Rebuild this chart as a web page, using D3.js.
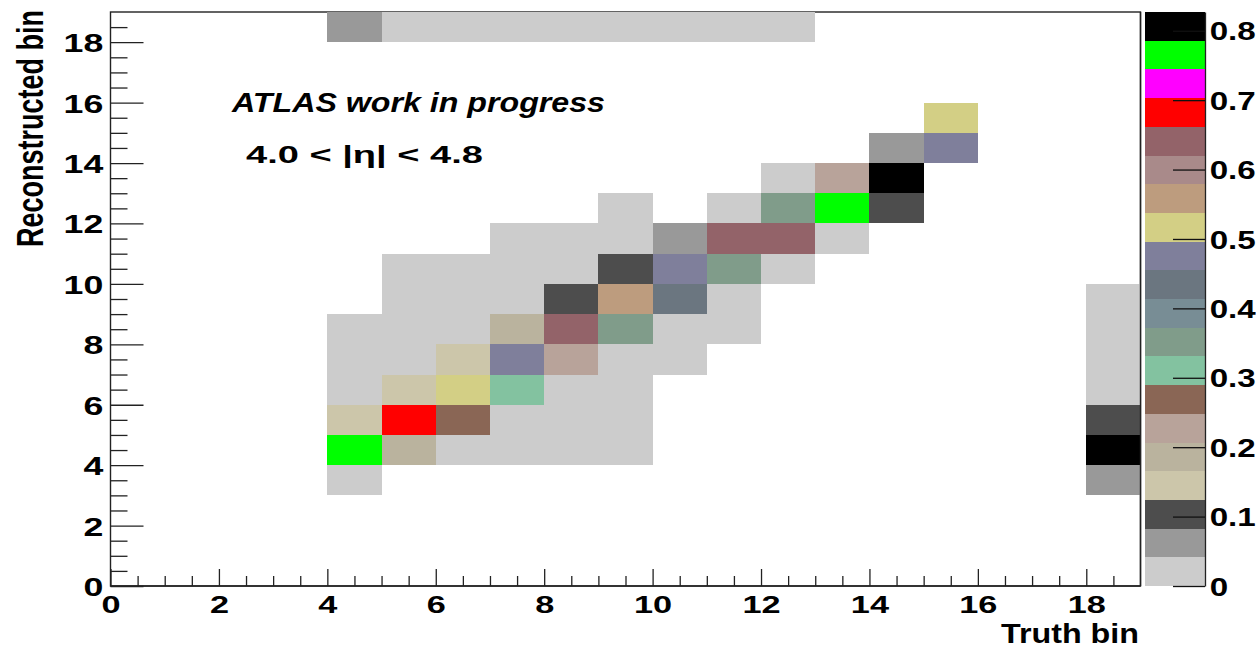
<!DOCTYPE html>
<html><head><meta charset="utf-8">
<script src="https://cdn.jsdelivr.net/npm/d3@7"></script>
<style>
body{margin:0;background:#fff}
svg text{font-family:"Liberation Sans",Arial,Helvetica,sans-serif;font-weight:bold;fill:#000}
</style>
</head><body>
<svg id="chart" width="1256" height="649"></svg>
<script>
// ---- data (truth bin, reconstructed bin, fraction) ----
const cellTruth = [4,4,4,4,4,4,4,
  5,5,5,5,5,5,5,5,
  6,6,6,6,6,6,6,6,
  7,7,7,7,7,7,7,7,7,
  8,8,8,8,8,8,8,8,8,
  9,9,9,9,9,9,9,9,9,9,
  10,10,10,10,10,10,
  11,11,11,11,11,11,
  12,12,12,12,12,
  13,13,13,
  14,14,14,
  15,15,
  18,18,18,18,18,18,18];
const cellReco = [3,4,5,6,7,8,18,
  4,5,6,7,8,9,10,18,
  4,5,6,7,8,9,10,18,
  4,5,6,7,8,9,10,11,18,
  4,5,6,7,8,9,10,11,18,
  4,5,6,7,8,9,10,11,12,18,
  7,8,9,10,11,18,
  8,9,10,11,12,18,
  10,11,12,13,18,
  11,12,13,
  12,13,14,
  14,15,
  3,4,5,6,7,8,9];
const cellValue = [0.02,0.765,0.14,0.02,0.01,0.01,0.06,
  0.19,0.68,0.14,0.02,0.01,0.01,0.01,0.02,
  0.03,0.27,0.52,0.14,0.02,0.01,0.01,0.02,
  0.01,0.02,0.31,0.47,0.19,0.02,0.01,0.01,0.01,
  0.01,0.01,0.03,0.23,0.64,0.10,0.02,0.01,0.01,
  0.01,0.01,0.02,0.03,0.35,0.56,0.10,0.03,0.01,0.01,
  0.02,0.03,0.43,0.47,0.06,0.01,
  0.01,0.03,0.35,0.64,0.02,0.01,
  0.03,0.64,0.35,0.02,0.01,
  0.02,0.765,0.23,
  0.10,0.81,0.06,
  0.47,0.52,
  0.06,0.81,0.10,0.02,0.01,0.01,0.01];
const paletteColors = ["#cccccc","#999999","#4d4d4d","#ccc6aa","#bab39e","#b8a39a","#8a6655",
  "#83c2a0","#809c8a","#788d95","#6b7680","#7f7f9b","#d3cf85","#bd9c7e","#a98a8a","#936369",
  "#ff0000","#ff00ff","#00ff00","#000000"];
const zMax = 0.827;
const xMajorTicks = [0,2,4,6,8,10,12,14,16,18];
const yMajorTicks = [0,2,4,6,8,10,12,14,16,18];
const zTicks = [0,0.1,0.2,0.3,0.4,0.5,0.6,0.7,0.8];
const xTitle = "Truth bin";
const yTitle = "Reconstructed bin";
const label1 = "ATLAS work in progress";
const label2 = "4.0 < |η| < 4.8";

// ---- scales ----
const svg = d3.select("#chart");
const x = d3.scaleLinear().domain([0,19]).range([110.5,1140.5]);
const y = d3.scaleLinear().domain([0,19]).range([586,12]);
const z = d3.scaleLinear().domain([0,zMax]).range([586,12]);
const nCol = paletteColors.length;
const colorOf = v => paletteColors[Math.min(nCol-1, Math.floor(v/zMax*nCol))];
const minorTicks = d3.range(0,19,0.5).filter(v => v % 2 !== 0);

const cells = cellTruth.map((t,i) => ({t, r: cellReco[i], v: cellValue[i]}));

// frame (under the cells, like ROOT)
svg.append("rect").attr("x", x(0)).attr("y", y(19)).attr("width", x(19)-x(0)).attr("height", y(0)-y(19))
  .attr("fill", "none").attr("stroke", "#222").attr("stroke-width", 1.4);

// ---- cells ----
svg.append("g").attr("shape-rendering", "crispEdges")
  .selectAll("rect").data(cells).join("rect")
  .attr("x", d => x(d.t)).attr("y", d => y(d.r+1))
  .attr("width", d => x(d.t+1)-x(d.t)).attr("height", d => y(d.r)-y(d.r+1))
  .attr("fill", d => colorOf(d.v));

// right and bottom frame lines on top
svg.append("line").attr("x1", x(19)).attr("x2", x(19)).attr("y1", y(19)).attr("y2", y(0))
  .attr("stroke", "#222").attr("stroke-width", 1.4);

// ---- axes ----
const DX = 1.4; // horizontal stretch of digits
const gx = svg.append("g").attr("transform", `translate(0,586)`);
gx.call(d3.axisBottom(x).tickValues(minorTicks).tickSize(-10).tickSizeOuter(0).tickFormat(""));
gx.select(".domain").remove();
const gx2 = svg.append("g").attr("transform", `translate(0,586)`);
gx2.call(d3.axisBottom(x).tickValues(xMajorTicks).tickSize(-17).tickSizeOuter(0).tickPadding(10).tickFormat(d3.format("d")));
gx2.select(".domain").remove();
gx2.selectAll("text").attr("font-size", 24.5).attr("transform", `scale(${DX},1)`);
[gx, gx2].forEach(g => g.selectAll("line").attr("stroke", "#222").attr("stroke-width", 1.3));
svg.append("line").attr("x1", x(0)).attr("x2", x(19)).attr("y1", y(0)).attr("y2", y(0))
  .attr("stroke", "#222").attr("stroke-width", 1.4);

const gy = svg.append("g").attr("transform", `translate(110.5,0)`);
gy.call(d3.axisLeft(y).tickValues(minorTicks).tickSize(-17).tickSizeOuter(0).tickFormat(""));
gy.select(".domain").remove();
const gy2 = svg.append("g").attr("transform", `translate(110.5,0)`);
gy2.call(d3.axisLeft(y).tickValues(yMajorTicks).tickSize(-33).tickSizeOuter(0).tickPadding(5.2).tickFormat(d3.format("d")));
gy2.select(".domain").remove();
gy2.selectAll("text").attr("font-size", 25.5).attr("dy", "0.37em").attr("transform", `scale(${DX},1)`);
[gy, gy2].forEach(g => g.selectAll("line").attr("stroke", "#222").attr("stroke-width", 1.3));

// ---- palette ----
const palX0 = 1145, palX1 = 1205;
const bands = paletteColors.map((c,i) => ({c, lo: i*zMax/nCol, hi: (i+1)*zMax/nCol}));
svg.append("g").attr("shape-rendering", "crispEdges")
  .selectAll("rect").data(bands).join("rect")
  .attr("x", palX0).attr("width", palX1-palX0)
  .attr("y", d => z(d.hi)).attr("height", d => z(d.lo)-z(d.hi))
  .attr("fill", d => d.c);
const gz = svg.append("g").attr("transform", `translate(${palX1},0)`);
gz.call(d3.axisRight(z).tickValues(zTicks).tickSize(-32).tickSizeOuter(0).tickPadding(3.6)
  .tickFormat(d => d === 0 ? "0" : d.toFixed(1)));
gz.select(".domain").attr("stroke", "#222").attr("stroke-width", 1.3);
gz.selectAll("line").attr("stroke", "#111").attr("stroke-width", 1.3);
gz.selectAll("text").attr("font-size", 25.5).attr("dy", "0.36em").attr("transform", `scale(1.3,1)`);

// ---- titles ----
svg.append("text").attr("x", 1139).attr("y", 643).attr("text-anchor", "end")
  .attr("font-size", 28).attr("textLength", 138).attr("lengthAdjust", "spacingAndGlyphs").text(xTitle);
svg.append("text").attr("text-anchor", "end").attr("font-size", 27)
  .attr("transform", "translate(43,10) rotate(-90) scale(1,1.4)").text(yTitle);
svg.append("text").attr("x", 232).attr("y", 112).attr("font-size", 28).attr("font-style", "italic")
  .attr("textLength", 373).attr("lengthAdjust", "spacingAndGlyphs").text(label1);
svg.append("text").attr("x", 246).attr("y", 163).attr("font-size", 24)
  .attr("textLength", 237).attr("lengthAdjust", "spacingAndGlyphs").text(label2);
</script>
</body></html>
